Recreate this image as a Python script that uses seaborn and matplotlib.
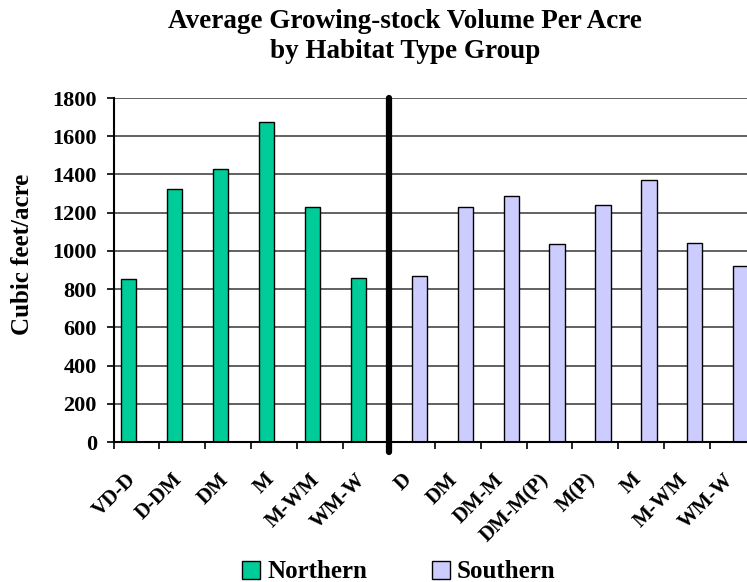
import matplotlib
matplotlib.use("Agg")
import numpy as np
import pandas as pd
import seaborn as sns
import matplotlib.pyplot as plt
from matplotlib.patches import Patch
from matplotlib.transforms import ScaledTranslation

# ---- data ----
north_labels = ["VD-D", "D-DM", "DM", "M", "M-WM", "WM-W"]
north_values = [851, 1322, 1428, 1676, 1230, 857]
south_labels = ["D", "DM", "DM-M", "DM-M(P)", "M(P)", "M", "M-WM", "WM-W"]
south_values = [870, 1230, 1287, 1034, 1238, 1369, 1040, 922]
series_names = ["Northern", "Southern"]
series_colors = ["#00CC99", "#CCCCFF"]
y_ticks = [0, 200, 400, 600, 800, 1000, 1200, 1400, 1600, 1800]
title_lines = ["Average Growing-stock Volume Per Acre", "by Habitat Type Group"]
y_label = "Cubic feet/acre"

rows = []
for lab, v in zip(north_labels, north_values):
    rows.append({"key": "N|" + lab, "label": lab, "region": "Northern", "value": v})
for lab, v in zip(south_labels, south_values):
    rows.append({"key": "S|" + lab, "label": lab, "region": "Southern", "value": v})
df = pd.DataFrame(rows)
order = list(df["key"])
tick_labels = list(df["label"])

sns.set_theme(style="white")
plt.rcParams["font.family"] = ["Liberation Serif", "DejaVu Serif"]
plt.rcParams["font.weight"] = "bold"
for k in ["text.color", "axes.labelcolor", "xtick.color", "ytick.color"]:
    plt.rcParams[k] = "black"

W, H = 747, 582
fig = plt.figure(figsize=(W / 100, H / 100), dpi=100)
fig.patch.set_facecolor("white")
ax_left, ax_right, ax_top, ax_bot = 113.5, 756, 98, 442
ax = fig.add_axes([ax_left / W, 1 - ax_bot / H, (ax_right - ax_left) / W, (ax_bot - ax_top) / H])

sns.barplot(data=df, x="key", y="value", hue="region", order=order,
            hue_order=series_names, palette=series_colors, saturation=1, width=2 / 3,
            dodge=True, edgecolor="black", linewidth=1, ax=ax, legend=False)

ax.set_xlim(-0.5, len(order) - 0.5)
ax.set_ylim(0, 1800)
ax.set_yticks(y_ticks)
ax.set_yticklabels([str(t) for t in y_ticks], fontsize=16, fontweight="bold")
ax.yaxis.grid(True, color="#555555", linewidth=1.3)
ax.xaxis.grid(False)
ax.set_axisbelow(True)
ax.set_xlabel("")
ax.set_ylabel("")

ax.set_xticks(range(len(order)))
ax.set_xticklabels(tick_labels, rotation=45, ha="right", va="center",
                   rotation_mode="anchor", fontsize=15, fontweight="bold")
ax.tick_params(axis="x", which="major", length=0, pad=25)
shift = ScaledTranslation(-3 / 100, 0, fig.dpi_scale_trans)
for lbl in ax.get_xticklabels():
    lbl.set_transform(lbl.get_transform() + shift)
ax.set_xticks(np.arange(-0.5, len(order), 1), minor=True)
ax.tick_params(axis="x", which="minor", length=5, width=1.2, color="black", direction="out", bottom=True)
ax.tick_params(axis="y", length=5, width=1.2, color="black", direction="out", left=True, pad=7)

for s in ["top", "right"]:
    ax.spines[s].set_visible(False)
for s in ["left", "bottom"]:
    ax.spines[s].set_color("black")
    ax.spines[s].set_linewidth(1.5)

ax.axvline(5.5, ymin=-0.03, ymax=1, color="black", linewidth=4.5, clip_on=False, zorder=5)

fig.text(405 / W, 1 - 21 / H, title_lines[0], ha="center", va="center", fontsize=19.5, fontweight="bold")
fig.text(405 / W, 1 - 52 / H, title_lines[1], ha="center", va="center", fontsize=19.5, fontweight="bold")
fig.text(23 / W, 1 - 254 / H, y_label, rotation=90, ha="center", va="center", fontsize=18, fontweight="bold")

handles = [Patch(facecolor=c, edgecolor="black", linewidth=1) for c in series_colors]
fig.legend(handles, series_names, loc="center", bbox_to_anchor=(399 / W, 1 - 572 / H), ncol=2,
           frameon=False, prop={"size": 18, "weight": "bold"}, handlelength=0.7, handleheight=0.7,
           handletextpad=0.3, columnspacing=2.6)

fig.savefig("out.png", dpi=100, facecolor="white")
